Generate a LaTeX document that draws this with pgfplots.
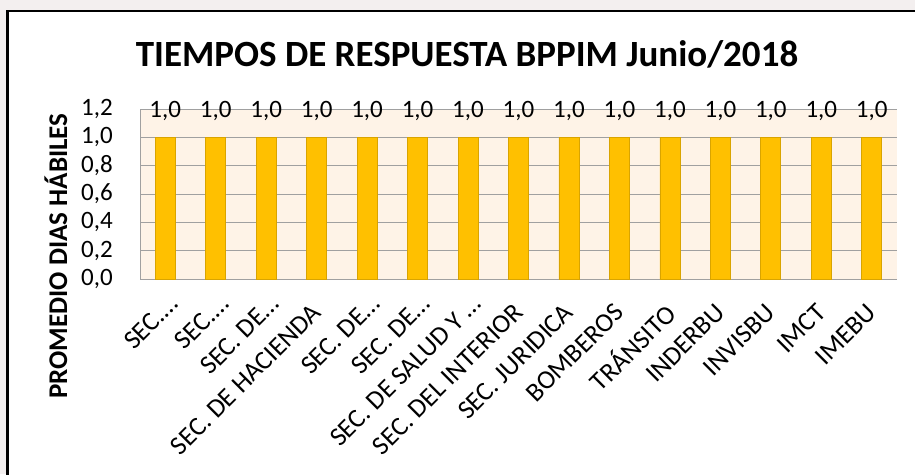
\documentclass[border=0pt]{standalone}
\usepackage{pgfplots}
\pgfplotsset{compat=1.18}
\usepackage{fontspec}
\setmainfont{Carlito}
\definecolor{barfill}{HTML}{FFC000}
\definecolor{bardraw}{HTML}{D9A400}
\definecolor{plotbg}{HTML}{FEF3E7}
\definecolor{gridgray}{HTML}{A0A0A0}
\definecolor{outerbg}{HTML}{F3EFEF}
\newcommand{\trunc}{\hspace*{-12pt}}
\begin{document}
\begin{tikzpicture}
\useasboundingbox (0pt,0pt) rectangle (915pt,-474pt);
\fill[outerbg] (0pt,0pt) rectangle (915pt,-474pt);
\fill[white] (7.5pt,-11pt) rectangle (930pt,-490pt);
\draw[black, line width=3pt] (7.5pt,-490pt) -- (7.5pt,-11pt);
\draw[black, line width=2.2pt] (6pt,-11pt) -- (930pt,-11pt);
\node[font=\fontsize{37}{44}\selectfont\bfseries, anchor=base] at (467pt,-66pt) {TIEMPOS DE RESPUESTA BPPIM Junio/2018};
\node[font=\fontsize{27}{32}\selectfont\bfseries, rotate=90, anchor=base] at (67pt,-256pt) {PROMEDIO DIAS HÁBILES};
\begin{axis}[
  at={(140pt,-279pt)}, anchor=south west,
  width=757pt, height=170pt, scale only axis,
  xmin=-0.5, xmax=14.5, ymin=0, ymax=1.2,
  enlargelimits=false,
  axis x line=bottom, axis y line=left,
  axis line style={-, draw=gridgray, line width=1pt},
  axis background/.style={fill=plotbg},
  ymajorgrids, grid style={draw=gridgray, line width=1pt},
  ytick={0,0.2,0.4,0.6,0.8,1.0,1.2},
  xtick=data,
  major tick length=0pt,
  xticklabels={{SEC.…\trunc},{SEC.…\trunc},{SEC. DE…\trunc},{SEC. DE HACIENDA},{SEC. DE…\trunc},{SEC. DE…\trunc},{SEC. DE SALUD Y …\trunc},{SEC. DEL INTERIOR},{SEC. JURIDICA},{BOMBEROS},{TRÁNSITO},{INDERBU},{INVISBU},{IMCT},{IMEBU}},
  xticklabel style={font=\fontsize{26.5}{30}\selectfont, rotate=45, anchor=east, inner sep=0pt},
  xticklabel shift=29pt,
  yticklabel style={font=\fontsize{25}{30}\selectfont, anchor=east, inner sep=0pt},
  yticklabel shift=27pt,
  /pgf/number format/assume math mode=true,
  yticklabel={\pgfmathprintnumber[fixed,fixed zerofill,precision=1,use comma]{\tick}},
  nodes near coords={\pgfmathprintnumber[fixed,fixed zerofill,precision=1,use comma]{\pgfplotspointmeta}},
  nodes near coords style={font=\fontsize{25}{30}\selectfont, inner sep=0pt, yshift=16pt},
  clip=false,
]
\addplot[ybar, bar width=20pt, fill=barfill, draw=bardraw, line width=0.8pt] coordinates {
(0,1.0) (1,1.0) (2,1.0) (3,1.0) (4,1.0) (5,1.0) (6,1.0) (7,1.0) (8,1.0) (9,1.0) (10,1.0) (11,1.0) (12,1.0) (13,1.0) (14,1.0)
};
\end{axis}
\end{tikzpicture}
\end{document}
